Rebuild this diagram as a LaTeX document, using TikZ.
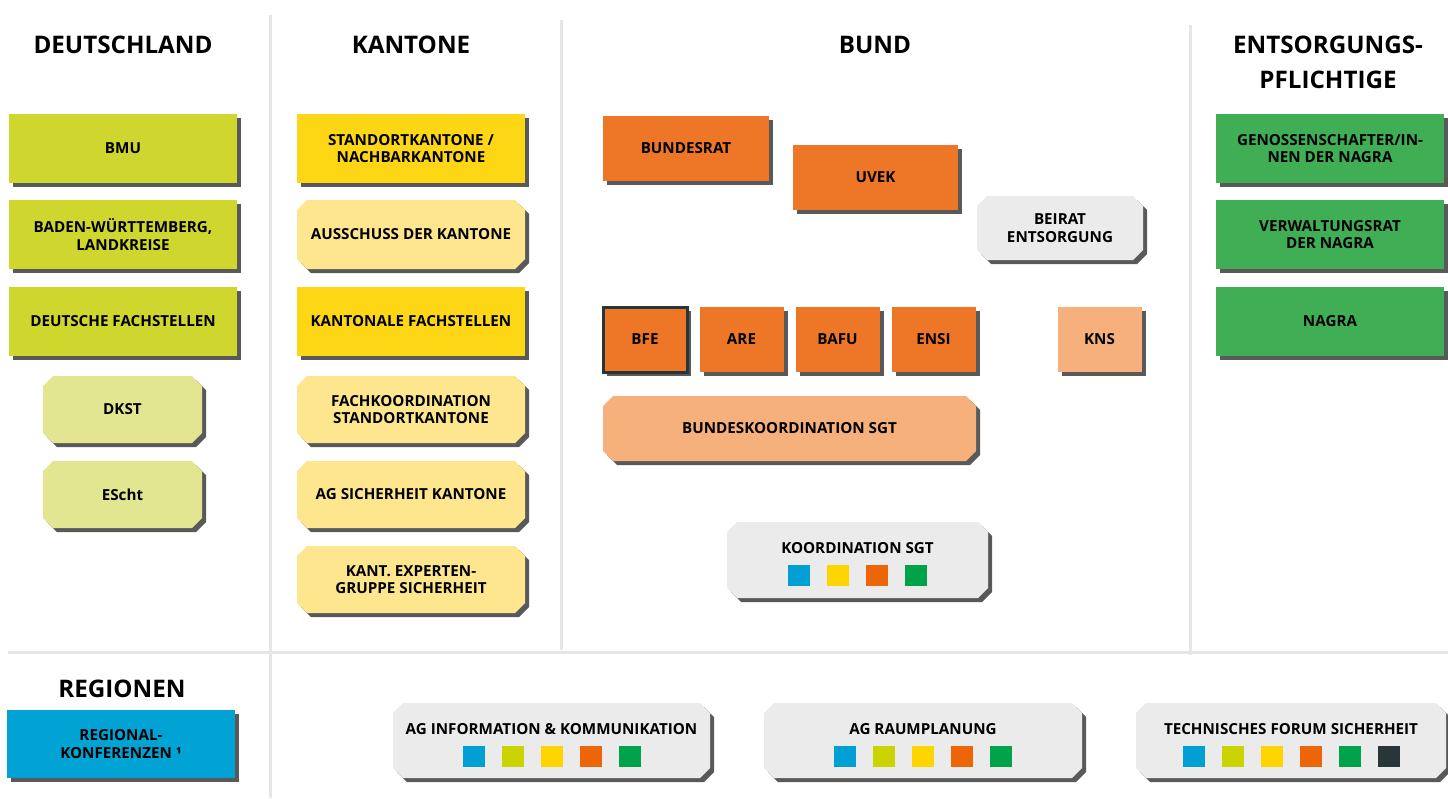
\documentclass[tikz,border=0pt]{standalone}
\usepackage{fontspec}
\setmainfont{Open Sans}
\usetikzlibrary{shapes.misc,shadows}

\definecolor{lime}{HTML}{CFD62D}
\definecolor{limelight}{HTML}{E3E691}
\definecolor{gelb}{HTML}{FDD716}
\definecolor{gelblight}{HTML}{FDE68E}
\definecolor{orange}{HTML}{ED7627}
\definecolor{orangelight}{HTML}{F6B07C}
\definecolor{grau}{HTML}{EBEBEB}
\definecolor{gruen}{HTML}{3FAE55}
\definecolor{blau}{HTML}{00A3D3}
\definecolor{sqblau}{HTML}{009FD4}
\definecolor{sqlime}{HTML}{CBD300}
\definecolor{sqgelb}{HTML}{FFD500}
\definecolor{sqorange}{HTML}{EC6608}
\definecolor{sqgruen}{HTML}{00A34A}
\definecolor{sqdunkel}{HTML}{28363A}
\definecolor{linie}{HTML}{E6E6E6}

\newcommand{\sqr}[1]{\textcolor{#1}{\rule{22pt}{21pt}}}
\newcommand{\sqgap}{\hspace{17pt}}
\newcommand{\agtop}{\rule{0pt}{20pt}}

\begin{document}
\begin{tikzpicture}[x=1pt,y=-1pt,
	box/.style={rectangle, fill=#1, inner sep=2pt, align=center, text=black,
		font=\fontsize{15.2}{17.5}\selectfont\bfseries,
		drop shadow={shadow xshift=4pt, shadow yshift=-4pt, fill=black!72, opacity=0.9}},
	chamf/.style={chamfered rectangle, chamfered rectangle xsep=5pt, chamfered rectangle ysep=5pt},
	wide/.style={minimum width=228pt, minimum height=69pt},
	small/.style={minimum width=159pt, minimum height=67pt},
	unit/.style={minimum width=84pt, minimum height=65pt},
	head/.style={font=\fontsize{24.2}{35}\selectfont\bfseries, align=center},
	divider/.style={draw=linie, line width=3pt}]
		%%%%% START %%%%%
		
		\useasboundingbox (0,0) rectangle (1448,798);
		
		\draw[divider] (270,15) -- (270,798);
		\draw[divider] (561,20) -- (561,650);
		\draw[divider] (1190,25) -- (1190,655);
		\draw[divider] (8,652) -- (1448,652);
		
		\node[head] (deutschland) at (123,45) {DEUTSCHLAND};
		\node[head] (kantone) at (411,45) {KANTONE};
		\node[head] (bund) at (875,45) {BUND};
		\node[head] (entsorgung) at (1328,62) {ENTSORGUNGS-\\PFLICHTIGE};
		\node[head] (regionen) at (122,689) {REGIONEN};
		
		% Deutschland
		\node[box=lime, wide] (bmu) at (123,148.5) {BMU};
		\node[box=lime, wide] (bawue) at (123,234.5) {BADEN-WÜRTTEMBERG,\\LANDKREISE};
		\node[box=lime, wide] (dfach) at (123,321) {DEUTSCHE FACHSTELLEN};
		\node[box=limelight, chamf, small] (dkst) at (122.5,409.5) {DKST};
		\node[box=limelight, chamf, small] (escht) at (122.5,494.5) {EScht};
		
		% Kantone
		\node[box=gelb, wide] (standort) at (411,148.5) {STANDORTKANTONE /\\NACHBARKANTONE};
		\node[box=gelblight, chamf, wide] (ausschuss) at (411,234.5) {AUSSCHUSS DER KANTONE};
		\node[box=gelb, wide] (kfach) at (411,321) {KANTONALE FACHSTELLEN};
		\node[box=gelblight, chamf, wide, minimum height=67pt] (fachko) at (411,409.5) {FACHKOORDINATION\\STANDORTKANTONE};
		\node[box=gelblight, chamf, wide, minimum height=67pt] (agsicher) at (411,494.5) {AG SICHERHEIT KANTONE};
		\node[box=gelblight, chamf, wide, minimum height=67pt] (kantexp) at (411,579.5) {KANT. EXPERTEN-\\GRUPPE SICHERHEIT};
		
		% Bund
		\node[box=orange, minimum width=166pt, minimum height=65pt] (bundesrat) at (686,148.5) {BUNDESRAT};
		\node[box=orange, minimum width=165pt, minimum height=65pt] (uvek) at (875.5,177.5) {UVEK};
		\node[box=grau, chamf, minimum width=166pt, minimum height=64pt] (beirat) at (1060,228) {BEIRAT\\ENTSORGUNG};
		
		\node[box=orange, unit, draw=sqdunkel, line width=3pt] (bfe) at (645,339.5) {BFE};
		\node[box=orange, unit] (are) at (741.5,339.5) {ARE};
		\node[box=orange, unit] (bafu) at (837.5,339.5) {BAFU};
		\node[box=orange, unit] (ensi) at (933.5,339.5) {ENSI};
		\node[box=orangelight, unit] (kns) at (1099.5,339.5) {KNS};
		
		\node[box=orangelight, chamf, minimum width=373pt, minimum height=65pt] (bundko) at (789.5,428.5) {BUNDESKOORDINATION SGT};
		
		\node[box=grau, chamf, minimum width=261pt, minimum height=76pt] (koord) at (857.5,560)
			{\agtop KOORDINATION SGT\\[10pt]\sqr{sqblau}\sqgap\sqr{sqgelb}\sqgap\sqr{sqorange}\sqgap\sqr{sqgruen}};
		
		% Entsorgungspflichtige
		\node[box=gruen, wide] (genossen) at (1330,148.5) {GENOSSENSCHAFTER/IN-\\NEN DER NAGRA};
		\node[box=gruen, wide] (verwaltung) at (1330,234.5) {VERWALTUNGSRAT\\DER NAGRA};
		\node[box=gruen, wide] (nagra) at (1330,321) {NAGRA};
		
		% Regionen und Arbeitsgruppen
		\node[box=blau, wide, minimum height=68pt] (regional) at (121,744) {REGIONAL-\\KONFERENZEN ¹};
		
		\node[box=grau, chamf, minimum width=317pt, minimum height=75pt] (aginfo) at (551.5,740.5)
			{\agtop AG INFORMATION \& KOMMUNIKATION\\[10pt]\sqr{sqblau}\sqgap\sqr{sqlime}\sqgap\sqr{sqgelb}\sqgap\sqr{sqorange}\sqgap\sqr{sqgruen}};
		\node[box=grau, chamf, minimum width=318pt, minimum height=75pt] (agraum) at (923,740.5)
			{\agtop AG RAUMPLANUNG\\[10pt]\sqr{sqblau}\sqgap\sqr{sqlime}\sqgap\sqr{sqgelb}\sqgap\sqr{sqorange}\sqgap\sqr{sqgruen}};
		\node[box=grau, chamf, minimum width=310pt, minimum height=75pt] (forum) at (1291,740.5)
			{\agtop TECHNISCHES FORUM SICHERHEIT\\[10pt]\sqr{sqblau}\sqgap\sqr{sqlime}\sqgap\sqr{sqgelb}\sqgap\sqr{sqorange}\sqgap\sqr{sqgruen}\sqgap\sqr{sqdunkel}};
		
		%%%%% END %%%%%
	\end{tikzpicture}
\end{document}
